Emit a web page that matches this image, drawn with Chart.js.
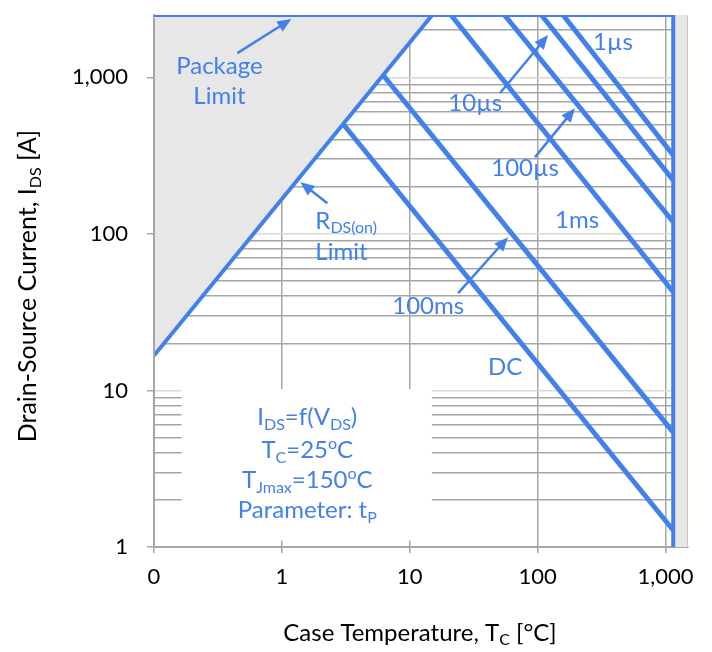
<!DOCTYPE html>
<html>
<head>
<meta charset="utf-8">
<script src="https://cdn.jsdelivr.net/npm/chart.js@4.4.0/dist/chart.umd.min.js"></script>
<style>
  body { margin: 0; background: #fff; }
  #wrap { width: 712px; height: 652px; }
</style>
</head>
<body>
<div id="wrap"><canvas id="soa" width="712" height="652"></canvas></div>
<script>
// axis ticks (log scales, first x tick is printed as "0")
const xTicks = [0.1, 1, 10, 100, 1000];
const xTickLabels = ['0', '1', '10', '100', '1,000'];
const yTicks = [1, 10, 100, 1000];
const yTickLabels = ['1', '10', '100', '1,000'];

// limits, V_DS [V] / I_DS [A]
const vdsMax = 1150;
const packageLimit = 2500;
const rdsV = [0.1, 15];
const rdsI = [16.7, 2500];

// pulse lines: start point (on package or R_DS(on) limit) and end current at vdsMax
const pulseNames = ['1µs', '10µs', '100µs', '1ms', '100ms', 'DC'];
const pulseStartV = [158, 107, 55, 21, 6.2, 3.0];
const pulseStartI = [2500, 2500, 2500, 2500, 1030, 505];
const pulseEndI = [318, 220, 119, 42.5, 5.4, 1.28];

const BLUE = 'rgb(66,128,234)';
const SHADE = '#e7e7e7';
const FONT = 'Lato';

const datasets = [];
pulseNames.forEach((name, i) => {
  datasets.push({
    label: name,
    data: [{x: pulseStartV[i], y: pulseStartI[i]}, {x: vdsMax, y: pulseEndI[i]}],
    borderColor: BLUE, borderWidth: 5, showLine: true, pointRadius: 0, fill: false
  });
});
datasets.push({
  label: 'Package Limit',
  data: [{x: xTicks[0], y: packageLimit}, {x: vdsMax, y: packageLimit}],
  borderColor: BLUE, borderWidth: 4, showLine: true, pointRadius: 0, fill: false
});
datasets.push({
  label: 'V_DS max',
  data: [{x: vdsMax, y: packageLimit}, {x: vdsMax, y: yTicks[0]}],
  borderColor: BLUE, borderWidth: 4, showLine: true, pointRadius: 0, fill: false
});
datasets.push({
  label: 'RDS(on) Limit',
  data: rdsV.map((v, i) => ({x: v, y: rdsI[i]})),
  borderColor: BLUE, borderWidth: 4, showLine: true, pointRadius: 0,
  fill: 'end', backgroundColor: SHADE
});
datasets.push({
  label: 'beyond V_DS max',
  data: [{x: vdsMax, y: packageLimit}, {x: 1500, y: packageLimit}],
  borderWidth: 0, showLine: true, pointRadius: 0,
  fill: 'start', backgroundColor: SHADE
});

// annotation text, placed in data units
const notes = [
  {at: [0.325, 1179], align: 'center', gap: 30, lines: [[['Package']], [['Limit']]]},
  {at: [1.827, 120.6], align: 'left', gap: 31, lines: [[['R'], ['DS(on)', 'sub']], [['Limit']]]},
  {at: [389, 1679], align: 'center', lines: [[['1µs']]]},
  {at: [32.5, 684], align: 'center', lines: [[['10µs']]]},
  {at: [79.8, 263], align: 'center', lines: [[['100µs']]]},
  {at: [203.5, 122], align: 'center', lines: [[['1ms']]]},
  {at: [13.95, 34.5], align: 'center', lines: [[['100ms']]]},
  {at: [55.7, 14.1], align: 'center', lines: [[['DC']]]},
  {at: [1.58, 6.74], align: 'center', lines: [[['I'], ['DS', 'sub'], ['=f(V'], ['DS', 'sub'], [')']]]},
  {at: [1.58, 4.15], align: 'center', lines: [[['T'], ['C', 'sub'], ['=25'], ['o', 'sup'], ['C']]]},
  {at: [1.58, 2.67], align: 'center', lines: [[['T'], ['Jmax', 'sub'], ['=150'], ['o', 'sup'], ['C']]]},
  {at: [1.58, 1.716], align: 'center', lines: [[['Parameter: t'], ['P', 'sub']]]}
];
const arrows = [
  {from: [0.449, 1428], to: [1.186, 2355]},
  {from: [2.268, 157], to: [1.395, 213.9]},
  {from: [50.9, 793], to: [120.8, 1860]},
  {from: [95.5, 309], to: [196, 635]},
  {from: [23.9, 41.8], to: [58.8, 95.3]}
];
const textBox = {v: [0.164, 14.9], i: [1.1, 10.2]};

function richText(ctx, parts, x, y, size, align, color) {
  ctx.save();
  ctx.fillStyle = color;
  ctx.textBaseline = 'middle';
  ctx.textAlign = 'left';
  const fontOf = p => (p[1] ? Math.round(size * 0.65) : size) + 'px ' + FONT;
  let w = 0;
  parts.forEach(p => { ctx.font = fontOf(p); w += ctx.measureText(p[0]).width; });
  let cx = align === 'center' ? x - w / 2 : x;
  parts.forEach(p => {
    ctx.font = fontOf(p);
    const dy = p[1] === 'sub' ? size * 0.3 : p[1] === 'sup' ? -size * 0.28 : 0;
    ctx.fillText(p[0], cx, y + dy);
    cx += ctx.measureText(p[0]).width;
  });
  ctx.restore();
}

const soaDecor = {
  id: 'soaDecor',
  beforeDatasetsDraw(chart) {
    const {ctx, scales: {x, y}} = chart;
    // white box behind the conditions text
    const l = x.getPixelForValue(textBox.v[0]), r = x.getPixelForValue(textBox.v[1]);
    const t = y.getPixelForValue(textBox.i[1]), b = y.getPixelForValue(textBox.i[0]);
    ctx.save();
    ctx.fillStyle = '#fff';
    ctx.fillRect(l, t, r - l, b - t);
    ctx.restore();
  },
  afterDatasetsDraw(chart) {
    const {ctx, chartArea: ca, scales: {x, y}} = chart;
    ctx.save();
    ctx.strokeStyle = '#a6a6a6';
    ctx.lineWidth = 2;
    ctx.beginPath();
    ctx.moveTo(ca.left, ca.top + 3);
    ctx.lineTo(ca.left, ca.bottom);
    ctx.stroke();
    ctx.strokeStyle = '#c8c8c8';
    ctx.lineWidth = 1;
    ctx.beginPath();
    ctx.moveTo(ca.right - 0.5, ca.top);
    ctx.lineTo(ca.right - 0.5, ca.bottom);
    ctx.stroke();
    ctx.restore();

    notes.forEach(n => {
      const px = x.getPixelForValue(n.at[0]);
      const py = y.getPixelForValue(n.at[1]);
      n.lines.forEach((parts, k) => richText(ctx, parts, px, py + k * (n.gap || 0), 24, n.align, BLUE));
    });

    arrows.forEach(a => {
      const x0 = x.getPixelForValue(a.from[0]), y0 = y.getPixelForValue(a.from[1]);
      const x1 = x.getPixelForValue(a.to[0]), y1 = y.getPixelForValue(a.to[1]);
      const ang = Math.atan2(y1 - y0, x1 - x0);
      const hl = 14, hw = 6;
      ctx.save();
      ctx.strokeStyle = BLUE;
      ctx.fillStyle = BLUE;
      ctx.lineWidth = 2.5;
      ctx.beginPath();
      ctx.moveTo(x0, y0);
      ctx.lineTo(x1 - Math.cos(ang) * hl * 0.8, y1 - Math.sin(ang) * hl * 0.8);
      ctx.stroke();
      ctx.translate(x1, y1);
      ctx.rotate(ang);
      ctx.beginPath();
      ctx.moveTo(0, 0);
      ctx.lineTo(-hl, -hw);
      ctx.lineTo(-hl, hw);
      ctx.closePath();
      ctx.fill();
      ctx.restore();
    });
  },
  afterDraw(chart) {
    const {ctx} = chart;
    richText(ctx, [['Case Temperature, T'], ['C', 'sub'], [' [°C]']], 420, 633, 24, 'center', '#000');
    ctx.save();
    ctx.translate(28, 286);
    ctx.rotate(-Math.PI / 2);
    richText(ctx, [['Drain-Source Current, I'], ['DS', 'sub'], [' [A]']], 0, 0, 25, 'center', '#000');
    ctx.restore();
  }
};

const yGridValues = [];
yTicks.forEach(d => { for (let m = 1; m <= 9; m++) if (m * d <= packageLimit) yGridValues.push(m * d); });

new Chart(document.getElementById('soa'), {
  type: 'scatter',
  data: {datasets},
  options: {
    responsive: false,
    animation: false,
    devicePixelRatio: 1,
    layout: {padding: {left: 0, right: 24, top: 15, bottom: 0}},
    plugins: {
      legend: {display: false},
      tooltip: {enabled: false},
      filler: {drawTime: 'beforeDatasetsDraw'}
    },
    scales: {
      x: {
        type: 'logarithmic',
        min: 0.1,
        max: 1500,
        afterFit: s => { s.height = 105; s.paddingLeft = 0; s.paddingRight = 0; },
        afterBuildTicks: s => { s.ticks = xTicks.map(v => ({value: v})); },
        ticks: {
          autoSkip: false, maxRotation: 0, padding: 11,
          color: '#000', font: {family: FONT, size: 22},
          callback: (v) => xTickLabels[xTicks.indexOf(v)]
        },
        grid: {color: '#a6a6a6', lineWidth: 1.5, tickLength: 6, tickColor: '#a6a6a6'},
        border: {color: '#a6a6a6', width: 2}
      },
      y: {
        type: 'logarithmic',
        min: 1,
        max: packageLimit,
        afterFit: s => { s.width = 154; s.paddingTop = 0; s.paddingBottom = 0; },
        afterBuildTicks: s => { s.ticks = yGridValues.map(v => ({value: v})); },
        ticks: {
          autoSkip: false, padding: 19,
          color: '#000', font: {family: FONT, size: 22},
          callback: (v) => { const k = yTicks.indexOf(v); return k < 0 ? '' : yTickLabels[k]; }
        },
        grid: {
          color: c => yTicks.includes(c.tick && c.tick.value) ? '#d9d9d9' : '#a6a6a6',
          tickColor: c => yTicks.includes(c.tick && c.tick.value) ? '#a6a6a6' : 'rgba(0,0,0,0)',
          lineWidth: 1.5, tickLength: 7
        },
        border: {color: '#a6a6a6', width: 2}
      }
    }
  },
  plugins: [soaDecor]
});
</script>
</body>
</html>
